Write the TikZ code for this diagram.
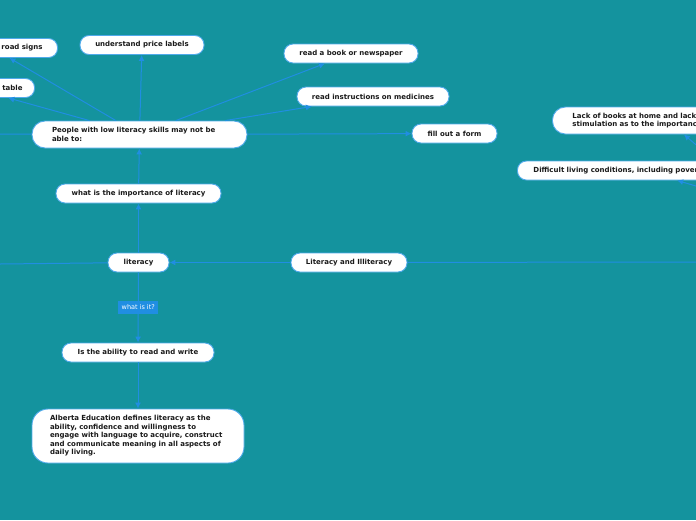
\documentclass[tikz,border=0pt]{standalone}
\usepackage{fontspec}
\setmainfont{DejaVu Sans}
\usetikzlibrary{arrows.meta,positioning}
\definecolor{mapbg}{RGB}{20,147,158}
\definecolor{linkblue}{RGB}{32,142,226}
\definecolor{edgeblue}{RGB}{80,170,235}
\definecolor{inkdark}{RGB}{26,26,26}

\begin{document}
\begin{tikzpicture}[x=1pt,y=-1pt,
font=\fontsize{7}{8.5}\selectfont\bfseries,
topic/.style={draw=edgeblue, line width=0.9pt, rounded corners=9pt, fill=white, text=inkdark, align=center, minimum height=19pt, inner xsep=8pt, inner ysep=2pt},
bigtopic/.style={topic, rounded corners=13pt, align=left, minimum height=27pt},
tag/.style={fill=linkblue, text=white, font=\fontsize{6.5}{7}\selectfont, inner sep=2pt, minimum height=13pt, minimum width=40pt},
arrow/.style={-{Latex[length=6pt,width=6pt]}, draw=linkblue, line width=1pt},
link/.style={draw=linkblue, line width=1pt}
]
\fill[mapbg] (0,0) rectangle (696,520);
\clip (0,0) rectangle (696,520);

\node[bigtopic, text width=175pt, inner xsep=20pt] (people) at (139.5,134.5) {People with low literacy skills may not be\\able to:};

\node[topic, minimum width=124pt] (price) at (142,45) {understand price labels};
\node[topic, minimum width=134pt] (book) at (351,53.5) {read a book or newspaper};
\node[topic, minimum width=152pt] (medicine) at (373,96.5) {read instructions on medicines};
\node[topic, minimum width=85pt] (form) at (454.5,133.5) {fill out a form};
\node[topic, text width=100pt, align=right, inner xsep=15pt, anchor=east] (signs) at (58,48) {road signs};
\node[topic, text width=100pt, align=right, inner xsep=12pt, anchor=east] (table) at (35,88) {table};

\node[bigtopic, text width=190pt, inner xsep=20pt, anchor=west] (lack) at (552,120.5) {Lack of books at home and lack\\stimulation as to the importance};
\node[topic, text width=220pt, align=left, inner xsep=16pt, anchor=west] (living) at (517,170.5) {Difficult living conditions, including poverty};

\node[topic, minimum width=165pt] (importance) at (138.5,193.5) {what is the importance of literacy};
\node[topic, minimum width=61pt] (literacy) at (138.5,262.5) {literacy};
\node[topic, minimum width=116pt] (litill) at (349,262.5) {Literacy and Illiteracy};
\node[topic, minimum width=152pt] (ability) at (138,352.5) {Is the ability to read and write};
\node[bigtopic, text width=176pt, inner xsep=18pt, minimum height=54pt, rounded corners=16pt] (alberta) at (138,436) {Alberta Education defines literacy as the\\ability, confidence and willingness to\\engage with language to acquire, construct\\and communicate meaning in all aspects of\\daily living.};

\coordinate (leftA) at (0,134);
\coordinate (leftB) at (0,264);
\coordinate (rightA) at (696,262);
\coordinate (causeA) at (731,174.5);
\coordinate (causeB) at (740,199);

\draw[arrow] (people) -- (price);
\draw[arrow] (people) -- (signs);
\draw[arrow] (people) -- (table);
\draw[arrow] (people) -- (book);
\draw[arrow] (people) -- (medicine);
\draw[arrow] (people) -- (form);
\draw[link] (leftA) -- (people);

\draw[arrow] (importance) -- (people);
\draw[arrow] (literacy) -- (importance);
\draw[arrow] (litill) -- (literacy);
\draw[link] (rightA) -- (litill);
\draw[link] (leftB) -- (literacy);

\draw[arrow] (literacy) -- node[tag] (whatis) {what is it?} (ability);
\draw[arrow] (ability) -- (alberta);

\draw[arrow] (causeA) -- (lack);
\draw[arrow] (causeB) -- (living);
\end{tikzpicture}
\end{document}
